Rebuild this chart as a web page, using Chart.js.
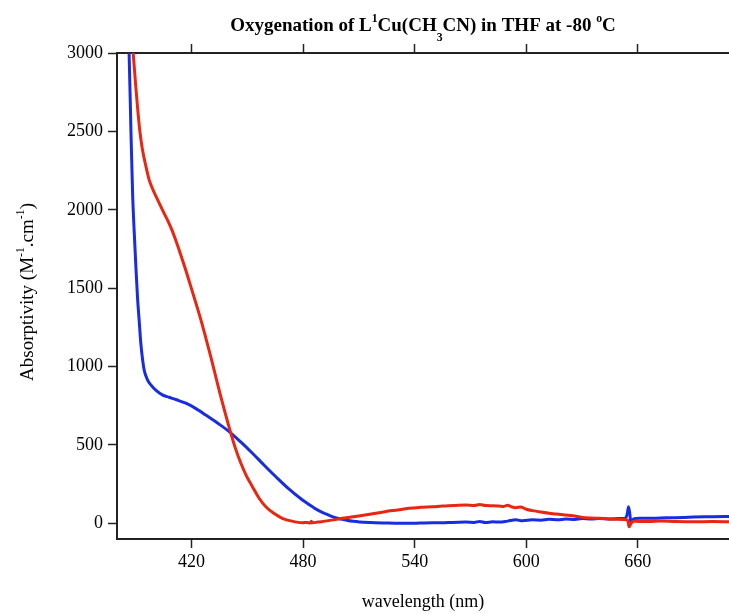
<!DOCTYPE html>
<html>
<head>
<meta charset="utf-8">
<script src="https://cdn.jsdelivr.net/npm/chart.js@4.4.1/dist/chart.umd.min.js"></script>
<style>
  body { margin: 0; background: #fff; }
  #wrap { width: 729px; height: 614px; position: relative; }
</style>
</head>
<body>
<div id="wrap"><canvas id="spectrum"></canvas></div>
<script>
// red trace
const redWavelength = [385.5, 388.7, 390, 391, 392.3, 393.7, 395.5, 397.3, 400, 402.7, 405, 407.1, 409.5, 411.6,
    414.3, 417, 419.7, 422.4, 425.1, 427.8, 430.4, 433.1, 435.8, 438.5, 441.2, 443.9, 446.6, 449.7, 452.8,
    456.4, 460, 464.5, 468.9, 474, 479.7, 482, 484, 484.5, 485, 488, 492, 496.5, 501.2, 506, 510, 515, 519.1,
    524, 528, 531.7, 537, 543, 549.6, 555, 561, 567.5, 572, 575, 578, 582, 585.4, 588, 590, 592, 594.4, 597,
    600, 603.3, 607, 612.3, 616, 621.3, 625, 630.2, 635, 639.2, 644, 648.2, 652, 654.5, 655.3, 656.5, 658,
    660.7, 666, 672, 680, 690, 700, 709];
const redAbsorptivity = [3400, 3000, 2800, 2659, 2500, 2383, 2280, 2191, 2110, 2043, 1985, 1936, 1872, 1805,
    1712, 1614, 1510, 1405, 1298, 1180, 1063, 935, 808, 688, 574, 470, 383, 300, 234,
    160, 106, 62, 32, 14, 4, 6, 2, 14, 3, 8, 14, 22, 32, 40, 47, 56, 64,
    74, 82, 86, 96, 102, 106, 110, 113, 117, 114, 120, 113, 112, 110, 108, 116, 106, 100, 104,
    90, 81, 74, 64, 60, 53, 48, 38, 34, 32, 28, 26, 24, 20, -22, 4, 14,
    12, 12, 15, 12, 10, 11, 10];

// blue trace
const blueWavelength = [384.5, 386.5, 387.5, 388.4, 389.2, 390.1, 391, 392, 392.8, 393.7, 394.6, 396.4, 398.2,
    401, 404.4, 408, 412, 417, 422, 427.7, 434, 440.3, 446.5, 452.8, 459, 465.4, 472.5, 479.7, 483, 486,
    489, 492.3, 495, 498, 501, 504, 507, 510.2, 516, 524, 531.7, 537, 543, 549.6, 555, 560, 567.5, 572, 575,
    578, 582, 585.4, 590, 594.4, 598, 603.3, 608, 612, 617, 621.3, 626, 630, 635, 639.2, 645, 650, 653, 654.3,
    655, 655.7, 656.2, 657, 658, 660.7, 666, 672, 680, 690, 700, 709];
const blueAbsorptivity = [3500, 3000, 2500, 2100, 1872, 1650, 1446, 1280, 1149, 1050, 978, 915, 883,
    848, 819, 804, 788, 766, 735, 691, 640, 585, 519, 447, 372, 297, 218, 149, 122, 98,
    78, 60, 46, 34, 25, 18, 13, 9, 5, 2, 0, 0, 2, 4, 3, 6, 8, 6, 12,
    5, 10, 8, 14, 22, 16, 22, 20, 26, 22, 28, 24, 30, 27, 30, 28, 30, 30, 60,
    106, 60, 0, 20, 30, 32, 32, 34, 36, 40, 42, 44];

const xTicks = [420, 480, 540, 600, 660];
const yTicks = [0, 500, 1000, 1500, 2000, 2500, 3000];

function toPoints(xs, ys) {
    return xs.map((x, i) => ({ x: x, y: ys[i] }));
}

Chart.defaults.font.family = '"Liberation Serif", "Times New Roman", serif';
Chart.defaults.color = '#000';

// draw a line of text made of normal / superscript / subscript pieces, centred on x
function drawRich(ctx, parts, cx, cy, size, bold) {
    const w = bold ? 'bold ' : '';
    let total = 0;
    parts.forEach(p => {
        const s = p.s ? size * 0.62 : size;
        ctx.font = w + s + 'px "Liberation Serif", serif';
        p.w = ctx.measureText(p.t).width;
        total += p.w;
    });
    let x = cx - total / 2;
    parts.forEach(p => {
        const s = p.s ? size * 0.62 : size;
        ctx.font = w + s + 'px "Liberation Serif", serif';
        let dy = 0;
        if (p.s === 'sup') dy = -size * 0.45;
        if (p.s === 'sub') dy = size * 0.5;
        ctx.fillText(p.t, x, cy + dy);
        x += p.w;
    });
}

const titlePlugin = {
    id: 'titles',
    afterDraw(chart) {
        const ctx = chart.ctx;
        const area = chart.chartArea;
        const mid = (area.left + area.right) / 2;
        ctx.save();
        ctx.fillStyle = '#000';
        ctx.textBaseline = 'alphabetic';
        ctx.textAlign = 'left';
        drawRich(ctx, [
            { t: 'Oxygenation of L' }, { t: '1', s: 'sup' }, { t: 'Cu(CH' }, { t: '3', s: 'sub' },
            { t: 'CN) in THF at -80 ' }, { t: 'o', s: 'sup' }, { t: 'C' }
        ], mid, 31, 19, true);

        drawRich(ctx, [{ t: 'wavelength (nm)' }], mid, 607, 18, false);

        ctx.translate(33, 292);
        ctx.rotate(-Math.PI / 2);
        drawRich(ctx, [
            { t: 'Absorptivity (M' }, { t: '-1', s: 'sup' }, { t: '.cm' }, { t: '-1', s: 'sup' }, { t: ')' }
        ], 0, 0, 19, false);
        ctx.restore();
    }
};

const axisGrid = {
    drawOnChartArea: false,
    drawTicks: true,
    tickLength: 9,
    tickColor: '#222',
    tickWidth: 1.5
};
const axisBorder = { display: true, color: '#222', width: 2 };

const data = {
    datasets: [{
        data: toPoints(redWavelength, redAbsorptivity),
        borderColor: 'rgb(232, 38, 18)',
        borderWidth: 3,
        pointRadius: 0,
        cubicInterpolationMode: 'monotone',
        clip: 0
    }, {
        data: toPoints(blueWavelength, blueAbsorptivity),
        borderColor: 'rgb(24, 44, 226)',
        borderWidth: 3,
        pointRadius: 0,
        cubicInterpolationMode: 'monotone',
        clip: 0
    }]
};

const configChart = {
    type: 'line',
    data: data,
    options: {
        responsive: true,
        maintainAspectRatio: false,
        animation: false,
        layout: { padding: 0 },
        plugins: {
            legend: { display: false },
            title: { display: false },
            tooltip: { enabled: false }
        },
        scales: {
            x: {
                type: 'linear',
                position: 'bottom',
                min: 380,
                max: 709,
                afterFit: s => { s.height = 75; },
                afterBuildTicks: s => { s.ticks = xTicks.map(v => ({ value: v })); },
                ticks: { font: { size: 18 }, padding: 3, maxRotation: 0, color: '#000', callback: v => String(v) },
                grid: axisGrid,
                border: axisBorder
            },
            x2: {
                type: 'linear',
                position: 'top',
                min: 380,
                max: 709,
                afterFit: s => { s.height = 53; },
                afterBuildTicks: s => { s.ticks = xTicks.map(v => ({ value: v })); },
                ticks: { display: false },
                grid: axisGrid,
                border: axisBorder
            },
            y: {
                min: -100,
                max: 3000,
                afterFit: s => { s.width = 117; },
                afterBuildTicks: s => { s.ticks = yTicks.map(v => ({ value: v })); },
                ticks: { font: { size: 18 }, padding: 5, color: '#000', callback: v => String(v) },
                grid: axisGrid,
                border: axisBorder
            }
        }
    },
    plugins: [titlePlugin]
};

let chart = new Chart(document.getElementById('spectrum'), configChart);
</script>
</body>
</html>
